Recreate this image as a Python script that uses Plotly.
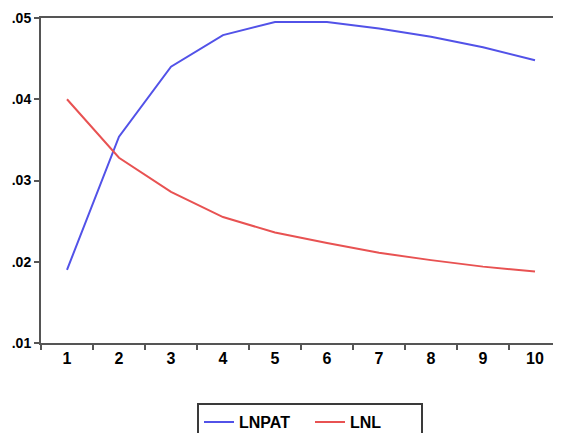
import plotly.graph_objects as go

categories = ["1", "2", "3", "4", "5", "6", "7", "8", "9", "10"]
lnpat = [0.0190, 0.0354, 0.0440, 0.0479, 0.0495, 0.0495, 0.0487, 0.0477, 0.0464, 0.0448]
lnl = [0.0400, 0.0328, 0.0286, 0.0255, 0.0236, 0.0223, 0.0211, 0.0202, 0.0194, 0.0188]
y_ticks = [0.01, 0.02, 0.03, 0.04, 0.05]
y_tick_labels = [".01", ".02", ".03", ".04", ".05"]

fig = go.Figure()
fig.add_trace(go.Scatter(x=categories, y=lnpat, mode="lines", name="LNPAT",
                         line=dict(color="#5252e8", width=2)))
fig.add_trace(go.Scatter(x=categories, y=lnl, mode="lines", name="LNL",
                         line=dict(color="#e85252", width=2)))

# page body has an 8px margin, so the figure is offset by 8px
fig.update_layout(
    width=553, height=425,
    margin=dict(l=33, r=0, t=10, b=90, autoexpand=False),
    paper_bgcolor="white", plot_bgcolor="white",
    font=dict(family="Liberation Sans, Arial", color="black"),
    showlegend=True,
    legend=dict(orientation="h", x=0.3, xanchor="left", y=-0.185, yanchor="top",
                bordercolor="#3a3a3a", borderwidth=2, bgcolor="white",
                font=dict(size=16, family="Liberation Sans", weight="bold"),
                itemwidth=30, entrywidth=66),
)
fig.update_xaxes(type="category", range=[-0.5, 9.5], tickson="boundaries",
                 ticks="outside", ticklen=5, automargin=False,
                 tickcolor="#555555", tickwidth=1.5,
                 showline=True, linecolor="#555555", linewidth=2, mirror=True,
                 showgrid=False, zeroline=False,
                 tickfont=dict(size=16, family="Liberation Sans", weight="bold"))
fig.update_yaxes(range=[0.01, 0.05], tickvals=y_ticks, ticktext=y_tick_labels,
                 ticks="outside", ticklen=5, automargin=False,
                 tickcolor="#555555", tickwidth=1.5,
                 showline=True, linecolor="#555555", linewidth=2,
                 showgrid=False, zeroline=False,
                 tickfont=dict(size=14, family="Liberation Sans", weight="bold"))

fig.write_html("out.html")
